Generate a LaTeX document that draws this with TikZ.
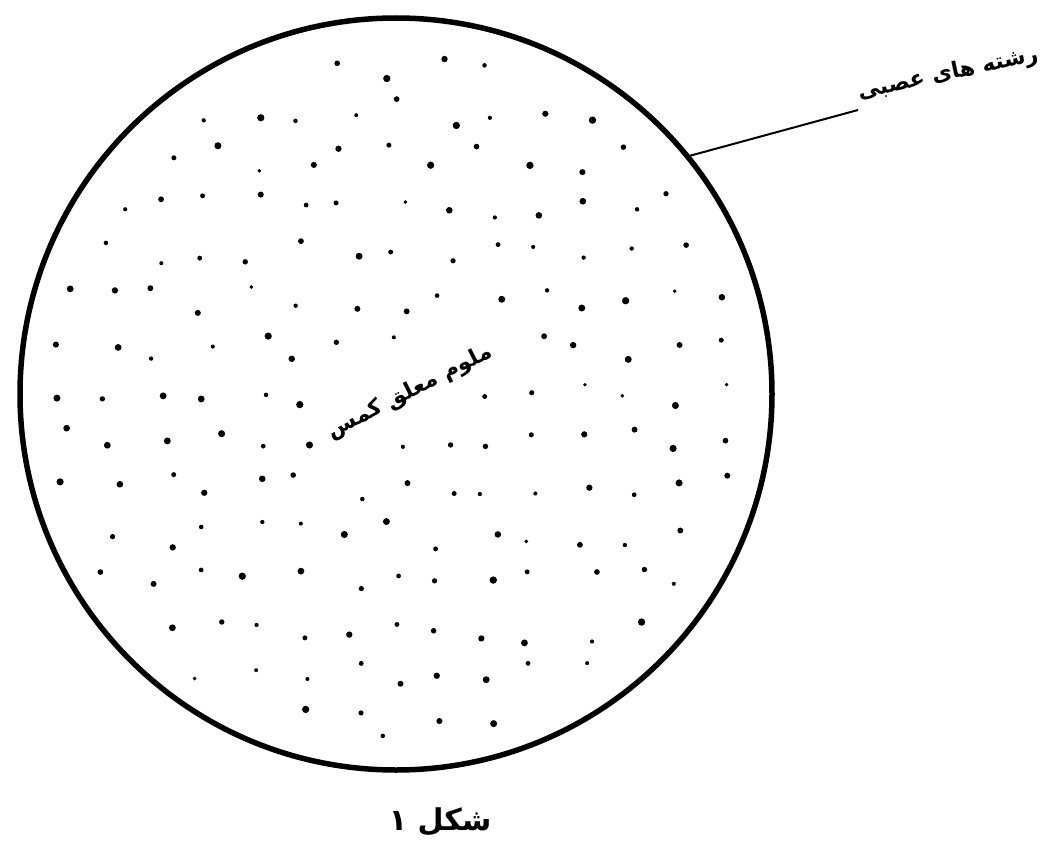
\documentclass[tikz,border=0pt]{standalone}
\usepackage{fontspec}
\newfontfamily\arabicfont[Script=Arabic]{DejaVu Sans}
\TeXXeTstate=1
\begin{document}
\begin{tikzpicture}[x=1pt,y=-1pt,
  rim/.style={circle,draw,line width=5.5pt,minimum size=752pt,inner sep=0pt},
  lead/.style={line width=2pt},
  fa/.style={font=\arabicfont\bfseries\fontsize{#1}{#1}\selectfont,inner sep=0pt}]
\useasboundingbox (0,0) rectangle (1050,859);
\pgfmathsetseed{12}
\foreach \i in {0,...,16}{\foreach \j in {0,...,16}{
  \pgfmathsetmacro\px{20+\i*47+rand*14}
  \pgfmathsetmacro\py{18+\j*47+rand*14}
  \pgfmathsetmacro\dd{veclen(\px-396,\py-394)}
  \pgfmathsetmacro\uu{abs((\px-410)*0.891-(\py-392)*0.454)}
  \pgfmathsetmacro\vv{abs((\px-410)*0.454+(\py-392)*0.891)}
  \pgfmathsetmacro\rr{1.8+rnd*1.9}
  \pgfmathsetmacro\keep{(\dd<352)*((\uu>100)+(\vv>26)>0)}
  \ifdim\keep pt>0.5pt \fill (\px,\py) circle[radius=\rr];\fi
}}
\node[rim] (c) at (396,394) {};
\coordinate (e) at (858,110);
\draw[lead] (c.39.5) -- (e);
\node[fa=22,rotate=12] (l) at (948,74) {\beginR رشته های عصبی\endR};
\node[fa=22,rotate=27] (m) at (410,392) {\beginR ملوم معلق کمس\endR};
\node[fa=30] (f) at (440,822) {\beginR شکل ۱\endR};
\end{tikzpicture}
\end{document}
